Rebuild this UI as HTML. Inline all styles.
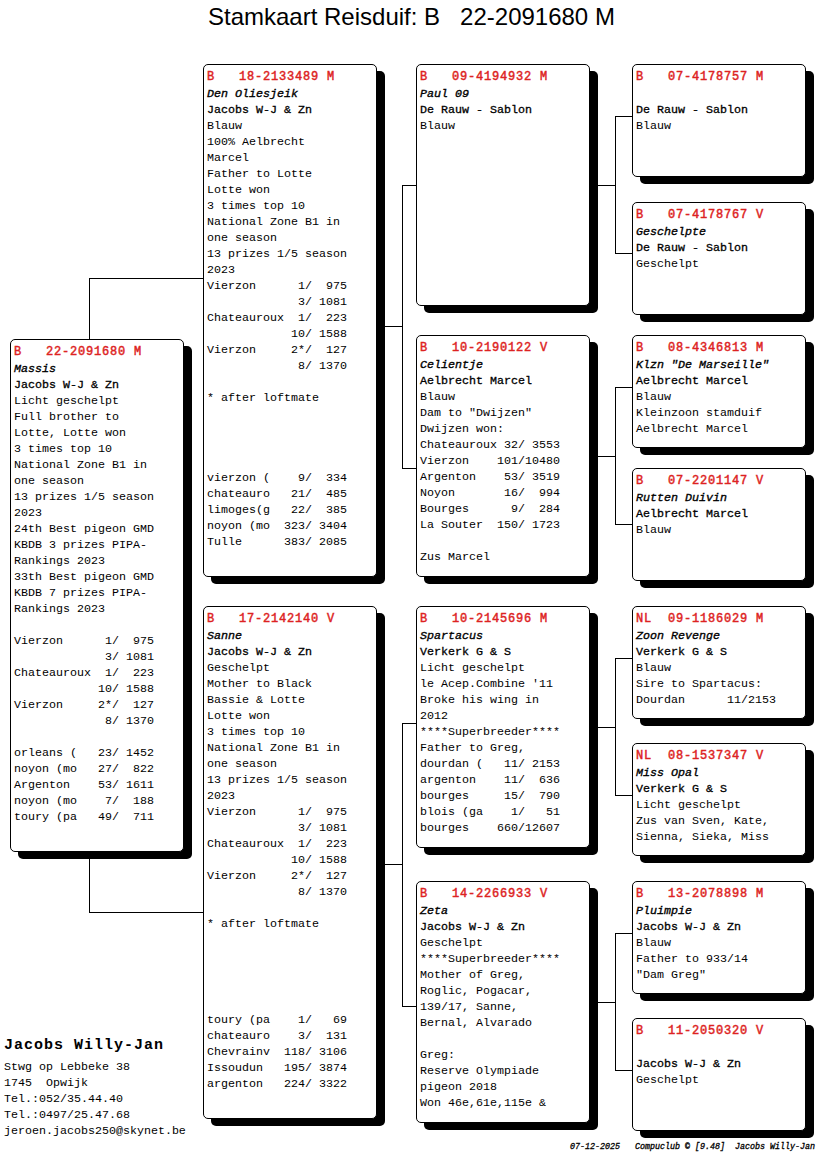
<!DOCTYPE html>
<html><head><meta charset="utf-8">
<style>
html,body{margin:0;padding:0;background:#fff;}
body{width:816px;height:1172px;position:relative;overflow:hidden;}
.ln{position:absolute;background:#000;}
.bx{position:absolute;width:174px;box-sizing:border-box;border:1px solid #000;border-radius:5px;background:#fff;box-shadow:8px 7px 0 0 #000;}
.t{position:absolute;left:3px;white-space:pre;font-family:"Liberation Mono",monospace;font-size:11.6667px;line-height:16px;color:#000;}
.hd{font-weight:normal;-webkit-text-stroke:0.45px #dd2222;font-size:12px;letter-spacing:0.7989px;color:#dd2222;}
.nm{font-style:italic;-webkit-text-stroke:0.35px #000;}
.ow{-webkit-text-stroke:0.3px #000;}
.title{position:absolute;left:208px;top:-1px;font-family:"Liberation Sans",sans-serif;font-size:24px;line-height:36px;white-space:pre;color:#000;}
.addr{position:absolute;left:4px;font-family:"Liberation Mono",monospace;white-space:pre;line-height:16px;font-size:11.6667px;}
.foot{position:absolute;left:570px;top:1141px;font-family:"Liberation Mono",monospace;font-size:8.3333px;font-style:italic;font-weight:normal;-webkit-text-stroke:0.3px #000;white-space:pre;line-height:12px;}
</style></head><body>

<div class="ln" style="left:89px;top:278px;width:1px;height:62px"></div>
<div class="ln" style="left:89px;top:278px;width:115px;height:1px"></div>
<div class="ln" style="left:89px;top:851px;width:1px;height:62px"></div>
<div class="ln" style="left:89px;top:912px;width:115px;height:1px"></div>
<div class="ln" style="left:384px;top:326px;width:19px;height:1px"></div>
<div class="ln" style="left:402px;top:185px;width:1px;height:284px"></div>
<div class="ln" style="left:402px;top:185px;width:15px;height:1px"></div>
<div class="ln" style="left:402px;top:468px;width:15px;height:1px"></div>
<div class="ln" style="left:384px;top:864px;width:19px;height:1px"></div>
<div class="ln" style="left:402px;top:723px;width:1px;height:284px"></div>
<div class="ln" style="left:402px;top:723px;width:15px;height:1px"></div>
<div class="ln" style="left:402px;top:1006px;width:15px;height:1px"></div>
<div class="ln" style="left:597px;top:185px;width:19px;height:1px"></div>
<div class="ln" style="left:615px;top:116px;width:1px;height:138px"></div>
<div class="ln" style="left:615px;top:116px;width:18px;height:1px"></div>
<div class="ln" style="left:615px;top:253px;width:18px;height:1px"></div>
<div class="ln" style="left:597px;top:456px;width:19px;height:1px"></div>
<div class="ln" style="left:615px;top:387px;width:1px;height:138px"></div>
<div class="ln" style="left:615px;top:387px;width:18px;height:1px"></div>
<div class="ln" style="left:615px;top:524px;width:18px;height:1px"></div>
<div class="ln" style="left:597px;top:727px;width:19px;height:1px"></div>
<div class="ln" style="left:615px;top:658px;width:1px;height:138px"></div>
<div class="ln" style="left:615px;top:658px;width:18px;height:1px"></div>
<div class="ln" style="left:615px;top:795px;width:18px;height:1px"></div>
<div class="ln" style="left:597px;top:1002px;width:19px;height:1px"></div>
<div class="ln" style="left:615px;top:933px;width:1px;height:138px"></div>
<div class="ln" style="left:615px;top:933px;width:18px;height:1px"></div>
<div class="ln" style="left:615px;top:1070px;width:18px;height:1px"></div>
<div class="bx" style="left:10px;top:339px;height:513px">
<div class="t hd" style="top:4px">B   22-2091680 M</div>
<div class="t" style="top:21px"><span class="nm">Massis</span>
<span class="ow">Jacobs W-J &amp; Zn</span>
Licht geschelpt
Full brother to
Lotte, Lotte won
3 times top 10
National Zone B1 in
one season
13 prizes 1/5 season
2023
24th Best pigeon GMD
KBDB 3 prizes PIPA-
Rankings 2023
33th Best pigeon GMD
KBDB 7 prizes PIPA-
Rankings 2023

Vierzon      1/  975
             3/ 1081
Chateauroux  1/  223
            10/ 1588
Vierzon     2*/  127
             8/ 1370

orleans (   23/ 1452
noyon (mo   27/  822
Argenton    53/ 1611
noyon (mo    7/  188
toury (pa   49/  711</div>
</div>
<div class="bx" style="left:203px;top:64px;height:513px">
<div class="t hd" style="top:4px">B   18-2133489 M</div>
<div class="t" style="top:21px"><span class="nm">Den Oliesjeik</span>
<span class="ow">Jacobs W-J &amp; Zn</span>
Blauw
100% Aelbrecht
Marcel
Father to Lotte
Lotte won
3 times top 10
National Zone B1 in
one season
13 prizes 1/5 season
2023
Vierzon      1/  975
             3/ 1081
Chateauroux  1/  223
            10/ 1588
Vierzon     2*/  127
             8/ 1370

* after loftmate




vierzon (    9/  334
chateauro   21/  485
limoges(g   22/  385
noyon (mo  323/ 3404
Tulle      383/ 2085</div>
</div>
<div class="bx" style="left:203px;top:606px;height:513px">
<div class="t hd" style="top:4px">B   17-2142140 V</div>
<div class="t" style="top:21px"><span class="nm">Sanne</span>
<span class="ow">Jacobs W-J &amp; Zn</span>
Geschelpt
Mother to Black
Bassie &amp; Lotte
Lotte won
3 times top 10
National Zone B1 in
one season
13 prizes 1/5 season
2023
Vierzon      1/  975
             3/ 1081
Chateauroux  1/  223
            10/ 1588
Vierzon     2*/  127
             8/ 1370

* after loftmate





toury (pa    1/   69
chateauro    3/  131
Chevrainv  118/ 3106
Issoudun   195/ 3874
argenton   224/ 3322</div>
</div>
<div class="bx" style="left:416px;top:64px;height:242px">
<div class="t hd" style="top:4px">B   09-4194932 M</div>
<div class="t" style="top:21px"><span class="nm">Paul 09</span>
<span class="ow">De Rauw - Sablon</span>
Blauw</div>
</div>
<div class="bx" style="left:416px;top:335px;height:242px">
<div class="t hd" style="top:4px">B   10-2190122 V</div>
<div class="t" style="top:21px"><span class="nm">Celientje</span>
<span class="ow">Aelbrecht Marcel</span>
Blauw
Dam to "Dwijzen"
Dwijzen won:
Chateauroux 32/ 3553
Vierzon    101/10480
Argenton    53/ 3519
Noyon       16/  994
Bourges      9/  284
La Souter  150/ 1723

Zus Marcel</div>
</div>
<div class="bx" style="left:416px;top:606px;height:242px">
<div class="t hd" style="top:4px">B   10-2145696 M</div>
<div class="t" style="top:21px"><span class="nm">Spartacus</span>
<span class="ow">Verkerk G &amp; S</span>
Licht geschelpt
le Acep.Combine '11
Broke his wing in
2012
****Superbreeder****
Father to Greg,
dourdan (   11/ 2153
argenton    11/  636
bourges     15/  790
blois (ga    1/   51
bourges    660/12607</div>
</div>
<div class="bx" style="left:416px;top:881px;height:242px">
<div class="t hd" style="top:4px">B   14-2266933 V</div>
<div class="t" style="top:21px"><span class="nm">Zeta</span>
<span class="ow">Jacobs W-J &amp; Zn</span>
Geschelpt
****Superbreeder****
Mother of Greg,
Roglic, Pogacar,
139/17, Sanne,
Bernal, Alvarado

Greg:
Reserve Olympiade
pigeon 2018
Won 46e,61e,115e &amp;</div>
</div>
<div class="bx" style="left:632px;top:64px;height:113px">
<div class="t hd" style="top:4px">B   07-4178757 M</div>
<div class="t" style="top:21px"><span class="nm"></span>
<span class="ow">De Rauw - Sablon</span>
Blauw</div>
</div>
<div class="bx" style="left:632px;top:202px;height:113px">
<div class="t hd" style="top:4px">B   07-4178767 V</div>
<div class="t" style="top:21px"><span class="nm">Geschelpte</span>
<span class="ow">De Rauw - Sablon</span>
Geschelpt</div>
</div>
<div class="bx" style="left:632px;top:335px;height:113px">
<div class="t hd" style="top:4px">B   08-4346813 M</div>
<div class="t" style="top:21px"><span class="nm">Klzn "De Marseille"</span>
<span class="ow">Aelbrecht Marcel</span>
Blauw
Kleinzoon stamduif
Aelbrecht Marcel</div>
</div>
<div class="bx" style="left:632px;top:468px;height:113px">
<div class="t hd" style="top:4px">B   07-2201147 V</div>
<div class="t" style="top:21px"><span class="nm">Rutten Duivin</span>
<span class="ow">Aelbrecht Marcel</span>
Blauw</div>
</div>
<div class="bx" style="left:632px;top:606px;height:113px">
<div class="t hd" style="top:4px">NL  09-1186029 M</div>
<div class="t" style="top:21px"><span class="nm">Zoon Revenge</span>
<span class="ow">Verkerk G &amp; S</span>
Blauw
Sire to Spartacus:
Dourdan      11/2153</div>
</div>
<div class="bx" style="left:632px;top:743px;height:113px">
<div class="t hd" style="top:4px">NL  08-1537347 V</div>
<div class="t" style="top:21px"><span class="nm">Miss Opal</span>
<span class="ow">Verkerk G &amp; S</span>
Licht geschelpt
Zus van Sven, Kate,
Sienna, Sieka, Miss</div>
</div>
<div class="bx" style="left:632px;top:881px;height:113px">
<div class="t hd" style="top:4px">B   13-2078898 M</div>
<div class="t" style="top:21px"><span class="nm">Pluimpie</span>
<span class="ow">Jacobs W-J &amp; Zn</span>
Blauw
Father to 933/14
"Dam Greg"</div>
</div>
<div class="bx" style="left:632px;top:1018px;height:113px">
<div class="t hd" style="top:4px">B   11-2050320 V</div>
<div class="t" style="top:21px"><span class="nm"></span>
<span class="ow">Jacobs W-J &amp; Zn</span>
Geschelpt</div>
</div>
<div class="title">Stamkaart Reisduif: B   22-2091680 M</div>
<div class="addr" style="top:1036px;font-weight:bold;font-size:15px;letter-spacing:1px;line-height:20px">Jacobs Willy-Jan</div>
<div class="addr" style="top:1059px">Stwg op Lebbeke 38
1745  Opwijk
Tel.:052/35.44.40
Tel.:0497/25.47.68
jeroen.jacobs250@skynet.be</div>
<div class="foot">07-12-2025   Compuclub © [9.48]  Jacobs Willy-Jan</div>
</body></html>
